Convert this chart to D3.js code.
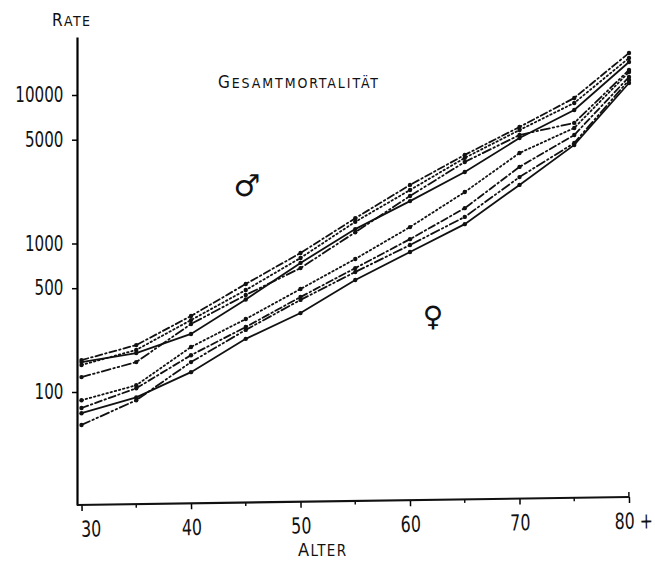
<!DOCTYPE html>
<html>
<head>
<meta charset="utf-8">
<script src="https://cdn.jsdelivr.net/npm/d3@7"></script>
<style>
  body { margin: 0; background: #fff; }
  svg text { font-family: "DejaVu Sans Condensed", "Liberation Sans", sans-serif; fill: #111; }
</style>
</head>
<body>
<svg id="chart" width="655" height="561"></svg>
<script>
// ages (x) and the death rates per series
const ages = [30, 35, 40, 45, 50, 55, 60, 65, 70, 75, 80];
const yTicks = [100, 500, 1000, 5000, 10000];
const xTickLabels = ["30", "40", "50", "60", "70", "80 +"];

// males (upper bundle)
const maleDashDot = [164, 207, 325, 534, 863, 1480, 2480, 3950, 6090, 9550, 19190];
const maleDotted  = [152, 192, 305, 486, 799, 1400, 2290, 3770, 5810, 8840, 17750];
const maleSolid   = [159, 183, 246, 420, 740, 1250, 1930, 3030, 5130, 7920, 16680];
const maleDashed  = [126, 159, 287, 450, 683, 1190, 2090, 3540, 5380, 6490, 14730];

// females (lower bundle)
const femaleDotted  = [88, 111, 201, 310, 494, 787, 1290, 2220, 4070, 6000, 14290];
const femaleDashDot = [78, 106, 177, 274, 436, 683, 1070, 1730, 3280, 5380, 13220];
const femaleSolid   = [72, 92, 136, 228, 340, 568, 877, 1350, 2480, 4610, 12050];
const femaleDashed  = [60, 88, 159, 262, 417, 643, 977, 1510, 2800, 4750, 12620];

const dashes = {
  solid: null,
  dotted: "1.5,2.8",
  dashdot: "7,3,1.5,3",
  dashed: "9,3,1.5,3,1.5,3"
};

const series = [
  { values: maleDashDot, dash: dashes.dashdot },
  { values: maleDotted, dash: dashes.dotted },
  { values: maleSolid, dash: dashes.solid },
  { values: maleDashed, dash: dashes.dashed },
  { values: femaleDotted, dash: dashes.dotted },
  { values: femaleDashDot, dash: dashes.dashdot },
  { values: femaleSolid, dash: dashes.solid },
  { values: femaleDashed, dash: dashes.dashed }
];

const svg = d3.select("#chart");
const axisX0 = 77, axisTop = 37, axisBottom = 505;
const narrow = "scale(0.8,1)";

let x = d3.scaleLinear().domain([30, 80]).range([81.5, 629]);

// log scale, 100 -> 392px, 10000 -> 95px, stretched to the full axis length
let yBase = d3.scaleLog().domain([100, 10000]).range([392, 95]);
let y = d3.scaleLog()
  .domain([yBase.invert(axisBottom), yBase.invert(axisTop)])
  .range([axisBottom, axisTop]);

// ------
// y axis
let yAxis = d3.axisLeft(y)
  .tickValues(yTicks)
  .tickFormat(d3.format("d"))
  .tickSize(5)
  .tickSizeOuter(0)
  .tickPadding(12);

svg.append("g")
  .attr("transform", "translate(" + axisX0 + ",0)")
  .call(yAxis)
  .call(g => g.select(".domain").attr("stroke-width", 2.2))
  .call(g => g.selectAll(".tick line").attr("stroke-width", 1.5))
  .call(g => g.selectAll("text").attr("font-size", 21).attr("fill", "#111")
    .attr("transform", narrow));

// ------
// x axis (slightly tilted, like the original drawing)
let gx = svg.append("g")
  .attr("transform", "translate(0," + axisBottom + ") rotate(-0.83," + axisX0 + ",0)");

let xAxis = d3.axisBottom(x)
  .tickValues([30, 40, 50, 60, 70, 80])
  .tickFormat((d, i) => xTickLabels[i])
  .tickSize(6)
  .tickSizeOuter(0)
  .tickPadding(7);

gx.call(xAxis)
  .call(g => g.select(".domain").remove())
  .call(g => g.selectAll(".tick line").attr("stroke-width", 1.5))
  .call(g => g.selectAll("text").attr("font-size", 22).attr("fill", "#111")
    .attr("transform", narrow).attr("dy", "0.85em"));
gx.selectAll(".tick text").filter(d => d === 30).attr("dx", 11);
gx.selectAll(".tick text").filter(d => d === 80).attr("dx", 5);

gx.append("line")
  .attr("x1", axisX0).attr("x2", x(80))
  .attr("stroke", "#111").attr("stroke-width", 2.2);

gx.selectAll("line.minor")
  .data([35, 45, 55, 65, 75])
  .enter()
  .append("line")
  .attr("class", "minor")
  .attr("x1", d => x(d)).attr("x2", d => x(d))
  .attr("y1", 0).attr("y2", 3.5)
  .attr("stroke", "#111").attr("stroke-width", 1.5);

gx.append("line")
  .attr("x1", x(80)).attr("x2", x(80))
  .attr("y1", -5).attr("y2", 0)
  .attr("stroke", "#111").attr("stroke-width", 1.5);

// ------
// series lines
let line = d3.line()
  .x((d, i) => x(ages[i]))
  .y(d => y(d));

let lines = svg.append("g");

series.forEach(function(s) {
  lines.append("path")
    .attr("d", line(s.values))
    .attr("fill", "none")
    .attr("stroke", "#111")
    .attr("stroke-width", 1.8)
    .attr("stroke-linecap", "round")
    .attr("stroke-dasharray", s.dash);

  lines.selectAll(null)
    .data(s.values)
    .enter()
    .append("circle")
    .attr("cx", (d, i) => x(ages[i]))
    .attr("cy", d => y(d))
    .attr("r", 2.2)
    .attr("fill", "#111");
});

// ------
// labels in small caps: first letter big, the rest smaller capitals
function smallCaps(xPos, yPos, word, big, small, anchor, length) {
  let t = svg.append("text")
    .attr("x", xPos).attr("y", yPos)
    .attr("text-anchor", anchor || "start");
  if (length) t.attr("textLength", length).attr("lengthAdjust", "spacing");
  t.append("tspan").attr("font-size", big).text(word[0]);
  t.append("tspan").attr("font-size", small).text(word.slice(1).toUpperCase());
  return t;
}

smallCaps(52, 26, "Rate", 17, 14, "start", 38);
smallCaps(218, 88, "Gesamtmortalität", 17, 14, "start", 160);
smallCaps(298, 556, "Alter", 18, 15, "start", 48);

svg.append("text")
  .attr("x", 247).attr("y", 196)
  .attr("text-anchor", "middle")
  .attr("font-size", 30)
  .attr("font-weight", "bold")
  .style("font-family", "DejaVu Sans")
  .text("\u2642");

svg.append("text")
  .attr("x", 433).attr("y", 326)
  .attr("text-anchor", "middle")
  .attr("font-size", 28)
  .attr("font-weight", "bold")
  .style("font-family", "DejaVu Sans")
  .text("\u2640");
</script>
</body>
</html>
